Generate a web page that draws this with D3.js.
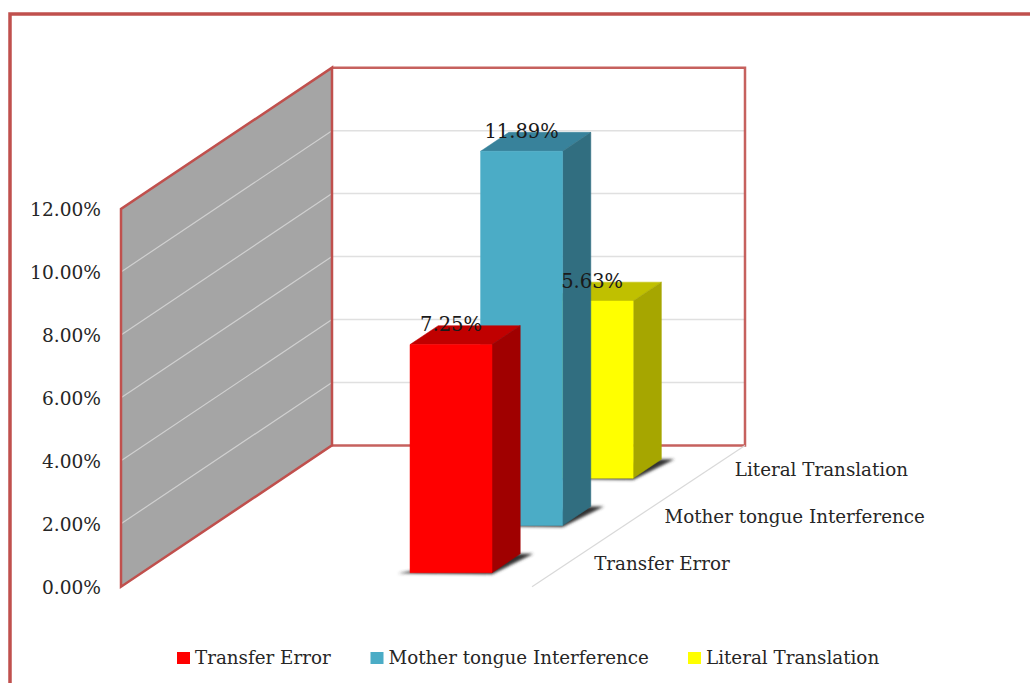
<!DOCTYPE html>
<html><head><meta charset="utf-8">
<script src="https://cdn.jsdelivr.net/npm/d3@7"></script>
<style>
html,body{margin:0;padding:0;background:#fff;overflow:hidden}
text{font-family:"DejaVu Serif",serif;fill:#262626}
</style></head><body>
<svg id="c" width="1030" height="683"></svg>
<script>
const categories = ["Transfer Error","Mother tongue Interference","Literal Translation"];
const values = [7.25,11.89,5.63];
const valueLabels = ["7.25%","11.89%","5.63%"];
const yTicks = [0,2,4,6,8,10,12];
const colors = ["#ff0000","#4bacc6","#ffff00"];
const topColors = ["#c00000","#38829b","#c0c000"];
const sideColors = ["#a00000","#316e80","#a6a600"];
const borderRed = "#c0504d";

const svg = d3.select("#c");
const wallX = 121, wallDX = 211, wallDY = 141.3, planeW = 413;
const y = d3.scaleLinear().domain([0,12]).range([586.7,209]);
const depth = d3.scaleBand().domain(categories).range([0,1]).paddingInner(0.6).paddingOuter(0.295);
const barX = d3.scaleBand().domain(["bars"]).range([268.2,350.2]);
const px = (u,t)=>wallX+u+wallDX*t;
const py = (v,t)=>y(v)-wallDY*t;
const pt = (u,v,t)=>[px(u,t),py(v,t)];
const poly = a=>a.map(p=>p.join(",")).join(" ");

const defs = svg.append("defs");
defs.append("filter").attr("id","blur").attr("x","-20%").attr("y","-50%").attr("width","140%").attr("height","200%")
  .append("feGaussianBlur").attr("stdDeviation",1.8);

// outer frame
svg.append("path").attr("d","M10,690V14H1040").attr("fill","none").attr("stroke",borderRed).attr("stroke-width",3.5);

// back wall
svg.append("polygon").attr("points",poly([pt(0,0,1),pt(0,12,1),pt(planeW,12,1),pt(planeW,0,1)]))
  .attr("fill","#fff");
svg.append("g").selectAll("line").data(yTicks.slice(1,-1)).join("line")
  .attr("x1",px(0,1)).attr("x2",px(planeW,1)).attr("y1",d=>py(d,1)).attr("y2",d=>py(d,1))
  .attr("stroke","#e0e0e0").attr("stroke-width",1.5);
svg.append("polyline").attr("points",poly([pt(0,0,1),pt(planeW,0,1),pt(planeW,12,1),pt(0,12,1)]))
  .attr("fill","none").attr("stroke",borderRed).attr("stroke-opacity",.9).attr("stroke-width",2.5);

// side wall
svg.append("polygon").attr("points",poly([pt(0,0,0),pt(0,12,0),pt(0,12,1),pt(0,0,1)]))
  .attr("fill","#a5a5a5");
svg.append("g").selectAll("line").data(yTicks.slice(1,-1)).join("line")
  .attr("x1",px(0,0)).attr("x2",px(0,1)).attr("y1",d=>py(d,0)).attr("y2",d=>py(d,1))
  .attr("stroke","#d0d0d0").attr("stroke-width",1.2);
svg.append("polygon").attr("points",poly([pt(0,0,0),pt(0,12,0),pt(0,12,1),pt(0,0,1)]))
  .attr("fill","none").attr("stroke",borderRed).attr("stroke-width",2.5).attr("stroke-linejoin","miter");

// floor edge
svg.append("line").attr("x1",px(planeW-2,0)).attr("y1",py(0,0)).attr("x2",px(planeW,1)).attr("y2",py(0,1))
  .attr("stroke","#d9d9d9").attr("stroke-width",1.2);

// bars back to front
const order = d3.range(categories.length).reverse();
const u0 = barX("bars"), u1 = u0 + barX.bandwidth();
const bars = svg.append("g").selectAll("g").data(order).join("g");
bars.each(function(i){
  const g = d3.select(this), c = categories[i], v = values[i];
  const t0 = depth(c), t1 = t0 + depth.bandwidth();
  const face = (pts,col)=>g.append("polygon").attr("points",poly(pts)).attr("fill",col).attr("stroke",col).attr("stroke-width",.5);
  g.append("polygon").attr("points",poly([[px(u0,t0)-12,py(0,t0)+.5],[px(u1,t0),py(0,t0)+1.5],[px(u1,t1)+13,py(0,t1)],[px(u1,t1)-8,py(0,t1)]]))
    .attr("fill","#333").attr("filter","url(#blur)");
  face([pt(u0,v,t0),pt(u1,v,t0),pt(u1,v,t1),pt(u0,v,t1)],topColors[i]);
  face([pt(u1,0,t0),pt(u1,v,t0),pt(u1,v,t1),pt(u1,0,t1)],sideColors[i]);
  face([pt(u0,0,t0),pt(u0,v,t0),pt(u1,v,t0),pt(u1,0,t0)],colors[i]);
});

// data labels
svg.append("g").selectAll("text").data(categories).join("text")
  .attr("x",(c,i)=>px((u0+u1)/2,depth(c)))
  .attr("y",(c,i)=>py(values[i],depth(c))-19)
  .attr("dominant-baseline","middle")
  .attr("text-anchor","middle").attr("font-size",19.5)
  .style("fill","#1a1a1a")
  .text((c,i)=>valueLabels[i]);

// y axis
const axis = d3.axisLeft(y).tickValues(yTicks).tickFormat(d=>d3.format(".2f")(d)+"%").tickSize(0).tickPadding(0);
const ag = svg.append("g").attr("transform","translate(101,1)").call(axis);
ag.select(".domain").remove();
ag.selectAll("text").attr("font-size",18.6).attr("font-family",null);

// category labels
const lab = d3.scaleBand().domain(categories).range([0,1]);
svg.append("g").selectAll("text").data(categories).join("text")
  .attr("x",c=>px(planeW,lab(c)+lab.bandwidth()/2)+25)
  .attr("y",c=>py(0,lab(c)+lab.bandwidth()/2)+1.8)
  .attr("dominant-baseline","middle").attr("font-size",18.3).text(c=>c);

// legend
const legendX = [177,370.5,688];
const lg = svg.append("g").selectAll("g").data(categories).join("g")
  .attr("transform",(c,i)=>`translate(${legendX[i]},652)`);
lg.append("rect").attr("width",13).attr("height",12).attr("fill",(c,i)=>colors[i]);
lg.append("text").attr("x",18).attr("y",6.5).attr("dominant-baseline","middle").attr("font-size",18.3).text(c=>c);
</script>
</body></html>
